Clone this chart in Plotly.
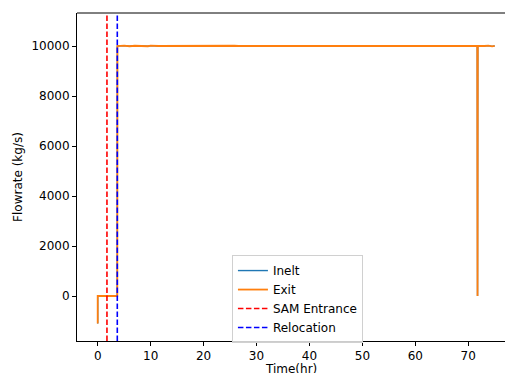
import plotly.graph_objects as go

# data
time_hr = [0, 0, 3.7, 3.72, 5.0, 6.0, 7.0, 7.5, 9.5, 10.0, 11.0, 11.5, 25.8, 26.2, 26.6, 71.7, 71.75, 71.8, 73.0, 73.8, 74.5, 75.0]
inlet = [-1100, 0, 0, 10000, 10015, 9990, 10010, 10000, 9990, 10015, 9985, 10000, 10010, 9992, 10000, 10000, 0, 10000, 10000, 10015, 9985, 10005]
exit_ = [-1100, 0, 0, 10000, 10015, 9990, 10010, 10000, 9990, 10015, 9985, 10000, 10010, 9992, 10000, 10000, 0, 10000, 10000, 10015, 9985, 10005]
sam_entrance = 1.75
relocation = 3.7
x_range = [-3.91, 76.94]
y_range = [-1800, 11320]
y_ticks = [0, 2000, 4000, 6000, 8000, 10000]
x_ticks = [0, 10, 20, 30, 40, 50, 60, 70]

fig = go.Figure()
fig.add_trace(go.Scatter(x=time_hr, y=inlet, mode="lines", name="Inelt",
                         line=dict(color="#1f77b4", width=1.4)))
fig.add_trace(go.Scatter(x=time_hr, y=exit_, mode="lines", name="Exit",
                         line=dict(color="#ff7f0e", width=1.8)))
fig.add_trace(go.Scatter(x=[sam_entrance, sam_entrance], y=y_range, mode="lines", name="SAM Entrance",
                         line=dict(color="red", width=1.6, dash="5.5px,2.5px")))
fig.add_trace(go.Scatter(x=[relocation, relocation], y=y_range, mode="lines", name="Relocation",
                         line=dict(color="blue", width=1.6, dash="5.5px,2.5px")))

font = dict(family="DejaVu Sans", size=12, color="black")
fig.update_layout(
    width=505, height=373,
    margin=dict(l=77, r=0, t=13, b=32),
    paper_bgcolor="white", plot_bgcolor="white",
    font=font,
    showlegend=True,
    legend=dict(x=0.362, y=0.262, xanchor="left", yanchor="top",
                bgcolor="rgba(255,255,255,0.8)", bordercolor="#d0d0d0", borderwidth=1,
                font=dict(family="DejaVu Sans", size=12, color="black"),
                tracegroupgap=0, itemwidth=30),
    xaxis=dict(range=x_range, tickvals=x_ticks, showgrid=False, zeroline=False,
               showline=True, linecolor="black", linewidth=1, automargin=False,
               ticks="outside", ticklen=4, tickcolor="black", tickfont=font),
    yaxis=dict(range=y_range, tickvals=y_ticks, tickformat="d", showgrid=False, zeroline=False,
               showline=True, linecolor="black", linewidth=1, automargin=False,
               ticks="outside", ticklen=4, tickcolor="black", tickfont=font,
               title=dict(text="Flowrate (kg/s)", font=font, standoff=6)),
    annotations=[dict(text="Time(hr)", xref="paper", yref="paper", x=0.5, y=-0.062,
                      xanchor="center", yanchor="top", showarrow=False,
                      font=font, borderpad=0)],
    shapes=[dict(type="line", xref="paper", yref="paper", x0=0, x1=1, y0=1, y1=1,
                 line=dict(color="black", width=1))],
)
fig.write_html("out.html")
